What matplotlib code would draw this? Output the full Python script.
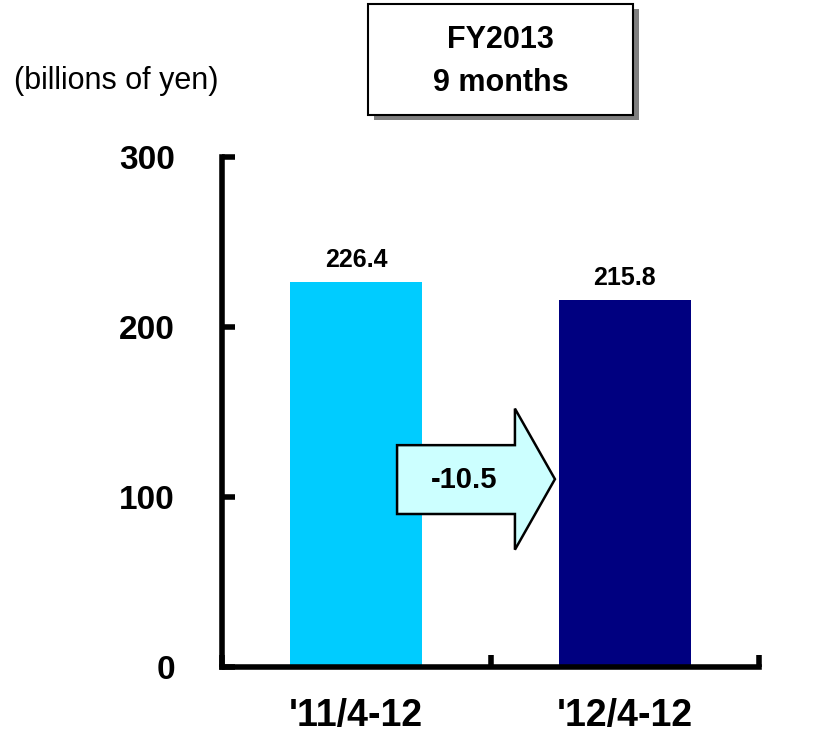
import matplotlib
matplotlib.use("Agg")
import matplotlib.pyplot as plt
from matplotlib.patches import Polygon, Rectangle

plt.rcParams["font.family"] = ["Liberation Sans", "DejaVu Sans"]

# ---------------- DATA ----------------
periods = ["'11/4-12", "'12/4-12"]
sales = [226.4, 215.8]
bar_colors = ["#00CCFF", "#000080"]
change_label = "-10.5"
y_ticks = [0, 100, 200, 300]

# ---------------- FIGURE ----------------
W, H = 830, 736
fig = plt.figure(figsize=(W / 100, H / 100), dpi=100)
ax = fig.add_axes([222 / W, 1 - 667 / H, (759 - 222) / W, (667 - 157) / H])

x = range(len(periods))
ax.bar(x, sales, width=0.49, color=bar_colors, zorder=2)
for xi, v in zip(x, sales):
    ax.text(xi, v + 6, f"{v:.1f}", ha="center", va="bottom",
            fontsize=18, fontweight="bold")

ax.set_xlim(-0.5, 1.5)
ax.set_ylim(0, 300)
ax.set_yticks(y_ticks)
ax.set_yticklabels([str(t) for t in y_ticks], fontsize=24, fontweight="bold")
ax.set_xticks([-0.5, 0.5, 1.5])
ax.set_xticklabels([])
ax.tick_params(axis="both", direction="in", length=9, width=4)
ax.tick_params(axis="y", pad=34)
for side in ["top", "right"]:
    ax.spines[side].set_visible(False)
for side in ["left", "bottom"]:
    ax.spines[side].set_linewidth(4)

# category labels under the axis
for xi, lab in zip(x, periods):
    ax.text(xi, -29, lab, ha="center", va="center",
            fontsize=27, fontweight="bold")

# ---- change arrow between the bars ----
arrow = Polygon(
    [(0.152, 90), (0.591, 90), (0.591, 69), (0.740, 110.5),
     (0.591, 152), (0.591, 130.5), (0.152, 130.5)],
    closed=True, facecolor="#CCFFFF", edgecolor="black", lw=1.8, zorder=3,
)
ax.add_patch(arrow)
ax.text(0.40, 110, change_label, ha="center", va="center",
        fontsize=21, fontweight="bold", zorder=4)

# ---- header box ----
bx, by, bw, bh = 368, 4, 265, 111
fig.patches.append(Rectangle(((bx + 6) / W, 1 - (by + bh + 5) / H), bw / W, bh / H,
                             transform=fig.transFigure, facecolor="#808080",
                             edgecolor="none", zorder=1))
fig.patches.append(Rectangle((bx / W, 1 - (by + bh) / H), bw / W, bh / H,
                             transform=fig.transFigure, facecolor="white",
                             edgecolor="black", lw=1.5, zorder=2))
fig.text((bx + bw / 2) / W, 1 - 40 / H, "FY2013", ha="center", va="center",
         fontsize=22, fontweight="bold")
fig.text((bx + bw / 2) / W, 1 - 83 / H, "9 months", ha="center", va="center",
         fontsize=22, fontweight="bold")

fig.text(14 / W, 1 - 81 / H, "(billions of yen)", ha="left", va="center",
         fontsize=22)

fig.savefig("out.png", dpi=100)
